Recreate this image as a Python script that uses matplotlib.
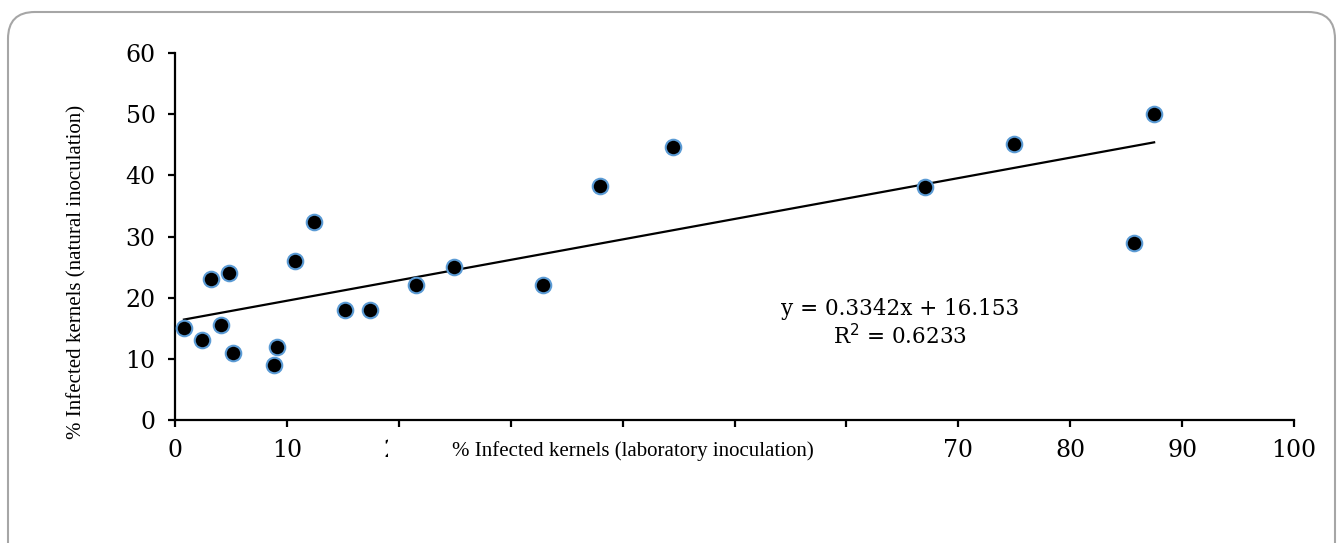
import matplotlib
matplotlib.use("Agg")
import matplotlib.pyplot as plt
import matplotlib.patches as patches
import numpy as np

# values
lab_infection = [0.8, 2.4, 3.2, 4.1, 4.8, 5.2, 8.85, 9.1, 10.75, 12.4, 15.2,
                 17.4, 21.5, 24.9, 32.9, 38.0, 44.5, 67.0, 75.0, 85.7, 87.5]
natural_infection = [15, 13, 23, 15.5, 24, 11, 9, 12, 26, 32.4, 18,
                     18, 22, 25, 22, 38.2, 44.7, 38.1, 45.1, 29, 50]
slope = 0.3342
intercept = 16.153
r_squared = 0.6233
x_ticks = [0, 10, 20, 30, 40, 50, 60, 70, 80, 90, 100]
y_ticks = [0, 10, 20, 30, 40, 50, 60]
# tick labels hidden behind the x-axis title in the reference
hidden_x_labels = [30, 40, 50, 60]

W, H = 1341, 543
fig = plt.figure(figsize=(W / 100, H / 100), dpi=100)
ax = fig.add_axes([175 / W, 1 - 420 / H, (1294 - 175) / W, (420 - 53) / H])

# trend line over the range of the data
xs = np.array([min(lab_infection), max(lab_infection)])
ax.plot(xs, slope * xs + intercept, color="black", lw=1.6, zorder=2)

ax.scatter(lab_infection, natural_infection, s=125, facecolor="black",
           edgecolor="#5b9bd5", linewidth=1.5, zorder=3, clip_on=False)

ax.set_xlim(0, 100)
ax.set_ylim(0, 60)
ax.set_xticks(x_ticks)
ax.set_xticklabels(["" if t in hidden_x_labels else str(t) for t in x_ticks])
ax.set_yticks(y_ticks)
for s in ["top", "right"]:
    ax.spines[s].set_visible(False)
for s in ["left", "bottom"]:
    ax.spines[s].set_linewidth(1.6)
ax.tick_params(direction="out", length=5, width=1.6, labelsize=17)
ax.tick_params(axis="x", pad=9)
ax.tick_params(axis="y", pad=9)
for lbl in ax.get_xticklabels() + ax.get_yticklabels():
    lbl.set_fontfamily("DejaVu Serif")

ax.text(0.648, 0.262, f"y = {slope}x + {intercept}\nR$^2$ = {r_squared}",
        transform=ax.transAxes, ha="center", va="center",
        family="DejaVu Serif", fontsize=15.5, linespacing=1.2)

# white box of the x label covers part of the tick labels
cover = patches.Rectangle((388 / W, 1 - 474 / H), 490 / W, 36 / H,
                          transform=fig.transFigure, facecolor="white",
                          edgecolor="none", zorder=5)
fig.patches.append(cover)
fig.text(633 / W, 1 - 451 / H, "% Infected kernels (laboratory inoculation)",
         ha="center", va="center", family="Liberation Serif", fontsize=15,
         zorder=6)
fig.text(77 / W, 1 - 272 / H, "% Infected kernels (natural inoculation)",
         ha="center", va="center", rotation=90, family="Liberation Serif",
         fontsize=15, zorder=6)

# rounded frame around the chart
frame = patches.FancyBboxPatch((8 / W, -30 / H), (1335 - 8) / W, (H - 12 + 30) / H,
                               boxstyle="round,pad=0,rounding_size=0.02",
                               transform=fig.transFigure, facecolor="none",
                               edgecolor="#a6a6a6", linewidth=1.5, zorder=0,
                               mutation_aspect=W / H)
fig.patches.append(frame)

fig.savefig("out.png", dpi=100)
